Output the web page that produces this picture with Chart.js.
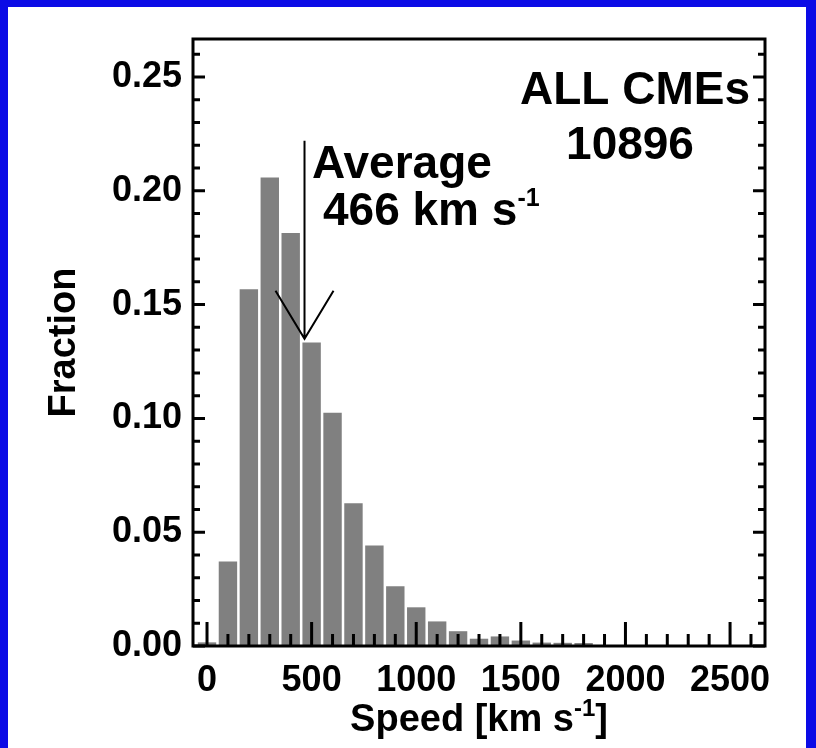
<!DOCTYPE html>
<html>
<head>
<meta charset="utf-8">
<title>CME speed distribution</title>
<script src="https://cdn.jsdelivr.net/npm/chart.js@4.4.0/dist/chart.umd.min.js"></script>
<style>
    html, body { margin: 0; padding: 0; background: #0b0be6; }
    canvas { display: block; }
</style>
</head>
<body>
<canvas id="speed-chart" width="816" height="748"></canvas>
<script>
// Histogram: bin centres in km/s and fraction of CMEs per bin
var speedBins = [0, 100, 200, 300, 400, 500, 600, 700, 800, 900,
                 1000, 1100, 1200, 1300, 1400, 1500, 1600, 1700, 1800];
var fractions = [0.0016, 0.0371, 0.1568, 0.2059, 0.1815, 0.1333, 0.1025, 0.0627, 0.0442, 0.0263,
                 0.0170, 0.0108, 0.0065, 0.0032, 0.0042, 0.0024, 0.0015, 0.0014, 0.0013];

// Labelled ticks
var speedLabels = [0, 500, 1000, 1500, 2000, 2500];
var fractionLabels = [0.00, 0.05, 0.10, 0.15, 0.20, 0.25];

var totalEvents = 10896;
var averageSpeed = 466;
var arrowSpan = [0.135, 0.222];   // bottom (tip) and top of the average arrow

var FONT = '"Liberation Sans", Arial, Helvetica, sans-serif';

function isLabel(list, v) {
    return list.some(function (l) { return Math.abs(l - v) < 1e-6; });
}

// Blue slide background with white panel
var slideBackground = {
    id: 'slideBackground',
    beforeDraw: function (chart) {
        var ctx = chart.ctx;
        ctx.save();
        ctx.fillStyle = '#0b0be6';
        ctx.fillRect(0, 0, chart.width, chart.height);
        ctx.fillStyle = '#ffffff';
        ctx.fillRect(8, 7, 798, 741);
        ctx.restore();
    }
};

// IDL style frame: inward ticks on bottom, left and right
var frameTicks = {
    id: 'frameTicks',
    afterDatasetsDraw: function (chart) {
        var ctx = chart.ctx, area = chart.chartArea;
        var xs = chart.scales.x, ys = chart.scales.y;
        ctx.save();
        ctx.strokeStyle = '#000';
        ctx.lineWidth = 3;
        ctx.beginPath();
        xs.ticks.forEach(function (t) {
            var px = xs.getPixelForValue(t.value);
            var len = isLabel(speedLabels, t.value) ? 24 : 12;
            ctx.moveTo(px, area.bottom);
            ctx.lineTo(px, area.bottom - len);
        });
        ys.ticks.forEach(function (t) {
            var py = ys.getPixelForValue(t.value);
            var len = isLabel(fractionLabels, t.value) ? 12 : 7;
            ctx.moveTo(area.left, py);
            ctx.lineTo(area.left + len, py);
            ctx.moveTo(area.right, py);
            ctx.lineTo(area.right - len, py);
        });
        ctx.stroke();
        ctx.strokeRect(area.left, area.top, area.right - area.left, area.bottom - area.top);
        ctx.restore();
    }
};

// text with a raised exponent after it
function drawSup(ctx, base, sup, x, y, size, supSize, rise) {
    ctx.font = 'bold ' + size + 'px ' + FONT;
    ctx.fillText(base, x, y);
    var w = ctx.measureText(base).width;
    ctx.font = 'bold ' + supSize + 'px ' + FONT;
    ctx.fillText(sup, x + w, y - rise);
    return w + ctx.measureText(sup).width;
}

// Labels, average arrow and axis title
var annotations = {
    id: 'annotations',
    afterDraw: function (chart) {
        var ctx = chart.ctx, area = chart.chartArea;
        var xs = chart.scales.x, ys = chart.scales.y;
        ctx.save();
        ctx.fillStyle = '#000';
        ctx.textBaseline = 'alphabetic';

        ctx.font = 'bold 46px ' + FONT;
        ctx.textAlign = 'right';
        ctx.fillText('ALL CMEs', 750, 104);
        ctx.textAlign = 'center';
        ctx.fillText(String(totalEvents), 630, 159);
        ctx.textAlign = 'left';
        ctx.fillText('Average', 312, 178);
        drawSup(ctx, averageSpeed + ' km s', '-1', 323, 225, 46, 25, 19);

        // arrow marking the mean speed
        var ax = xs.getPixelForValue(averageSpeed);
        var tip = ys.getPixelForValue(arrowSpan[0]);
        var top = ys.getPixelForValue(arrowSpan[1]);
        ctx.strokeStyle = '#000';
        ctx.lineWidth = 2;
        ctx.beginPath();
        ctx.moveTo(ax, top);
        ctx.lineTo(ax, tip);
        ctx.moveTo(ax - 29, tip - 48);
        ctx.lineTo(ax, tip);
        ctx.lineTo(ax + 29, tip - 48);
        ctx.stroke();

        // x axis title with superscript
        ctx.font = 'bold 38px ' + FONT;
        var w1 = ctx.measureText('Speed [km s').width;
        var w3 = ctx.measureText(']').width;
        ctx.font = 'bold 24px ' + FONT;
        var w2 = ctx.measureText('-1').width;
        var x0 = (area.left + area.right) / 2 - (w1 + w2 + w3) / 2;
        ctx.textAlign = 'left';
        var used = drawSup(ctx, 'Speed [km s', '-1', x0, 731, 38, 24, 15);
        ctx.font = 'bold 38px ' + FONT;
        ctx.fillText(']', x0 + used, 731);
        ctx.restore();
    }
};

var tickFont = { family: FONT, size: 36, weight: 'bold' };

var ctx = document.getElementById('speed-chart').getContext('2d');
new Chart(ctx, {
    type: 'bar',
    data: {
        datasets: [{
            data: speedBins.map(function (s, i) {
                return { x: s, y: fractions[i] };
            }),
            backgroundColor: '#808080',
            borderWidth: 0,
            barPercentage: 0.88,
            categoryPercentage: 1.0
        }]
    },
    options: {
        responsive: false,
        animation: false,
        devicePixelRatio: 1,
        layout: { padding: { top: 39, right: 51, left: 0, bottom: 0 } },
        plugins: {
            legend: { display: false },
            tooltip: { enabled: false }
        },
        scales: {
            x: {
                type: 'linear',
                min: -67,
                max: 2667,
                offset: false,
                grid: { display: false, drawTicks: false },
                border: { display: false },
                ticks: {
                    stepSize: 100,
                    includeBounds: false,
                    autoSkip: false,
                    maxRotation: 0,
                    padding: 13,
                    color: '#000',
                    font: tickFont,
                    callback: function (v) {
                        return isLabel(speedLabels, v) ? String(v) : '';
                    }
                },
                afterFit: function (scale) { scale.height = 102; }
            },
            y: {
                min: 0,
                max: 0.2667,
                grid: { display: false, drawTicks: false },
                border: { display: false },
                ticks: {
                    stepSize: 0.01,
                    includeBounds: false,
                    autoSkip: false,
                    padding: 11,
                    color: '#000',
                    font: tickFont,
                    callback: function (v) {
                        return isLabel(fractionLabels, v) ? v.toFixed(2) : '';
                    }
                },
                title: {
                    display: true,
                    text: 'Fraction',
                    color: '#000',
                    font: { family: FONT, size: 38, weight: 'bold' },
                    padding: { top: 42, bottom: 0 }
                },
                afterFit: function (scale) { scale.width = 193; }
            }
        }
    },
    plugins: [slideBackground, frameTicks, annotations]
});
</script>
</body>
</html>
